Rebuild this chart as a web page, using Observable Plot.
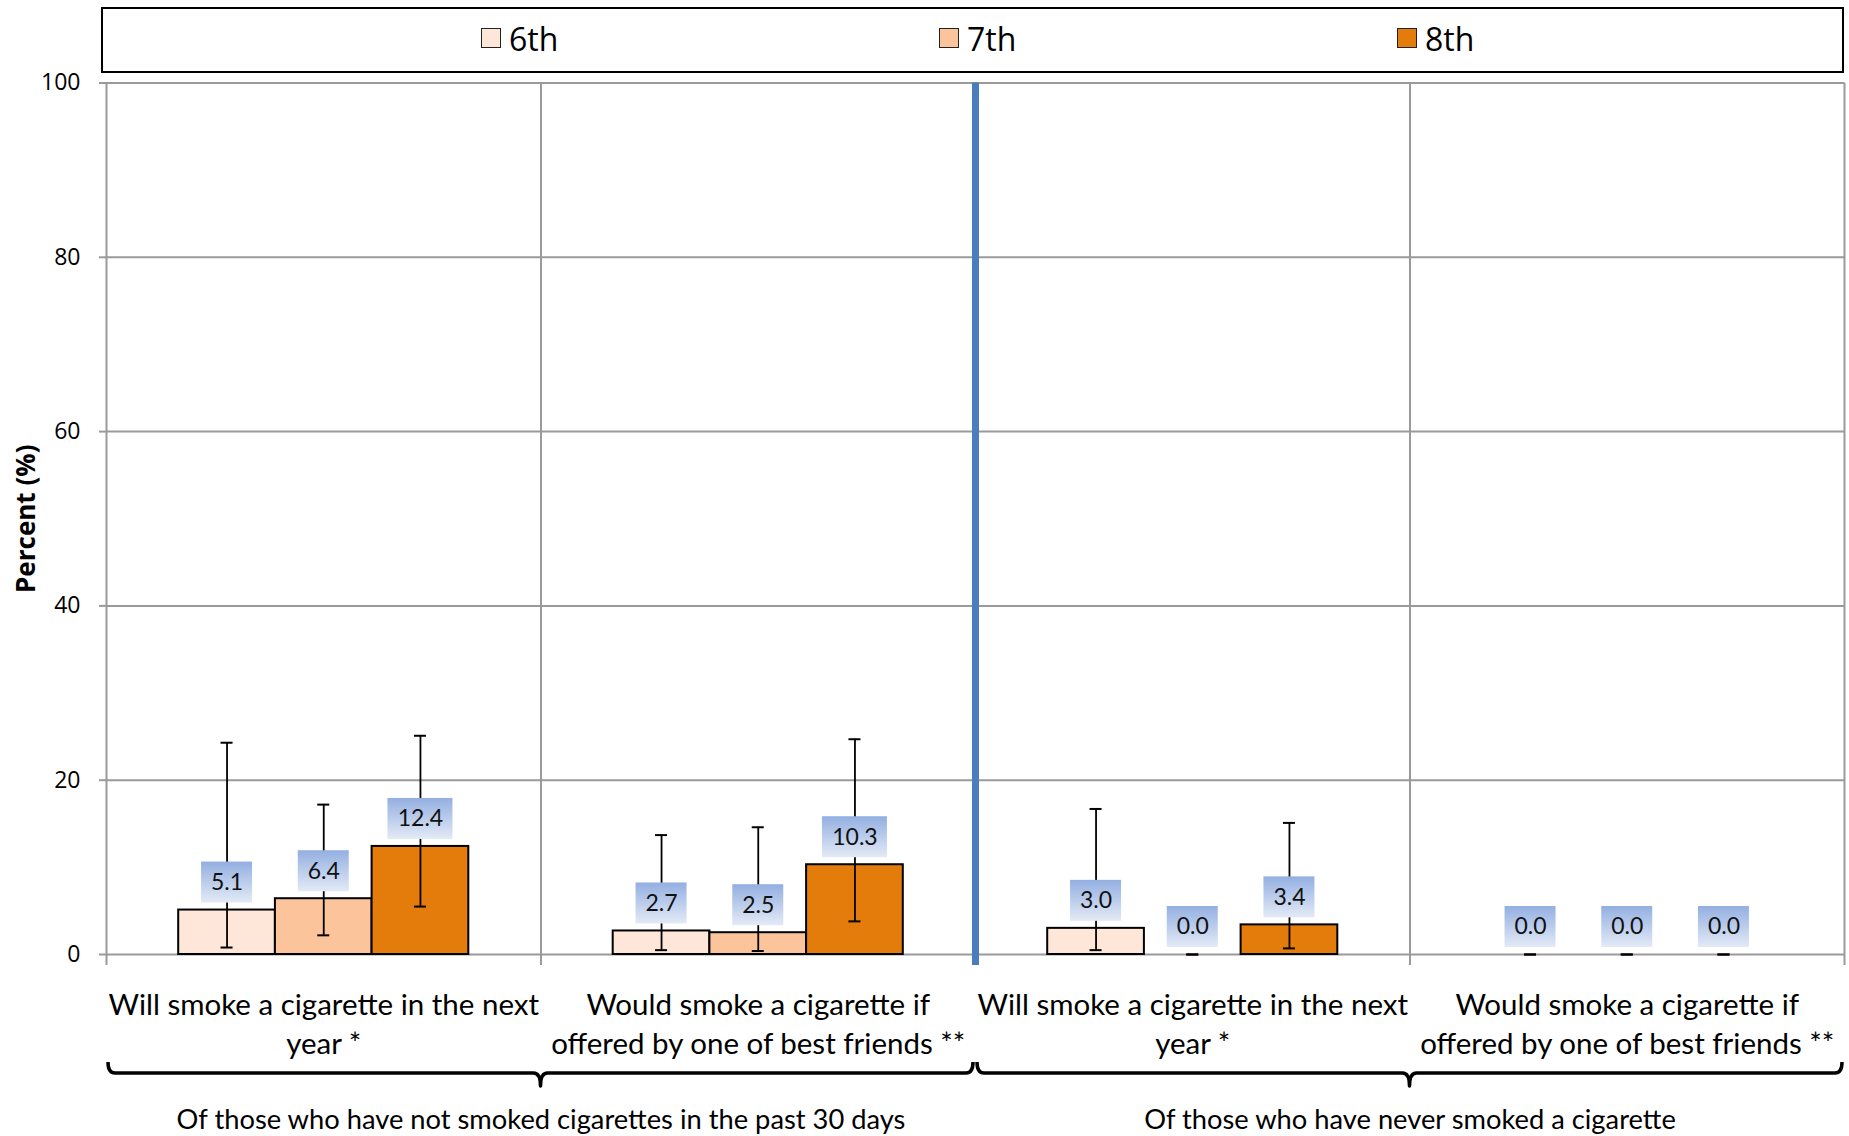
<!DOCTYPE html>
<html>
<head>
<meta charset="utf-8">
<script src="https://cdn.jsdelivr.net/npm/d3@7"></script>
<script src="https://cdn.jsdelivr.net/npm/@observablehq/plot@0.6"></script>
<style>
  html, body { margin: 0; padding: 0; background: #fff; overflow: hidden; }
  #legendWrap { position: relative; width: 1849px; height: 60px; }
  #legendBox { position: absolute; left: 101px; top: 7px; width: 1743px; height: 66px; border: 2px solid #000; box-sizing: border-box; }
  .item { position: absolute; top: -2px; height: 62px; display: flex; align-items: center; font-family: "Open Sans", sans-serif; font-size: 32px; color: #000; }
  .sw { width: 18px; height: 18px; border: 1.6px solid #222; margin-right: 8px; }
  #chart svg { display: block; }
</style>
</head>
<body>
<div id="legendWrap"><div id="legendBox"></div></div>
<div id="chart"></div>
<script>
// ---------- data ----------
const categoryLabels = [
  "Will smoke a cigarette in the next\nyear *",
  "Would smoke a cigarette if\noffered by one of best friends **",
  "Will smoke a cigarette in the next\nyear *",
  "Would smoke a cigarette if\noffered by one of best friends **"
];
const categoryGroup = [0, 0, 1, 1];
const groupLabels = [
  "Of those who have not smoked cigarettes in the past 30 days",
  "Of those who have never smoked a cigarette"
];
const grades = ["6th", "7th", "8th"];
const gradeColors = ["#FEE6D8", "#FCC49A", "#E37C0A"];

const values6th = [5.1, 2.7, 3.0, 0.0];
const values7th = [6.4, 2.5, 0.0, 0.0];
const values8th = [12.4, 10.3, 3.4, 0.0];

const lower6th = [0.8, 0.5, 0.5, 0.0];
const upper6th = [24.3, 13.7, 16.7, 0.0];
const lower7th = [2.2, 0.4, 0.0, 0.0];
const upper7th = [17.2, 14.6, 0.0, 0.0];
const lower8th = [5.5, 3.8, 0.7, 0.0];
const upper8th = [25.1, 24.7, 15.1, 0.0];

const yTicks = [0, 20, 40, 60, 80, 100];
const yLabel = "Percent (%)";

// ---------- layout / style ----------
const W = 1849, H = 1076, mL = 106, mR = 5, mT = 22.5, mB = 182;
const n = categoryLabels.length;
const catPx = (W - mL - mR) / n;
const barFrac = 96.7 / catPx;
const gridColor = "#9a9a9a";
const sepColor = "#4A7EBB";
const labelFont = "Lato, 'Open Sans', sans-serif";

const values = [values6th, values7th, values8th];
const lowers = [lower6th, lower7th, lower8th];
const uppers = [upper6th, upper7th, upper8th];
const fmt = d3.format(".1f");

const rows = [];
categoryLabels.forEach((c, i) => {
  grades.forEach((g, j) => {
    rows.push({
      cat: i, grade: g,
      cx: i + 0.5 + (j - (grades.length - 1) / 2) * barFrac,
      v: values[j][i], lo: lowers[j][i], hi: uppers[j][i],
      text: fmt(values[j][i])
    });
  });
});
const caps = rows.flatMap(d => [{cx: d.cx, y: d.lo}, {cx: d.cx, y: d.hi}]);

// separators between groups / category boundaries
const boundaries = d3.range(0, n + 1);
const sepIndex = boundaries.filter(b => b > 0 && b < n && categoryGroup[b] !== categoryGroup[b - 1]);
const grayBounds = boundaries.filter(b => !sepIndex.includes(b));

// group spans
const groupSpans = groupLabels.map((label, g) => {
  const idx = categoryGroup.map((cg, i) => cg === g ? i : -1).filter(i => i >= 0);
  return {label, start: d3.min(idx), end: d3.max(idx) + 1, center: (d3.min(idx) + d3.max(idx) + 1) / 2, g};
});

// label boxes grouped by text length
const byLen = d3.groups(rows, d => d.text.length);
const boxMarks = byLen.map(([len, arr]) => {
  const hw = (len * 14 + 9) / 2;
  return Plot.rect(arr, {
    x1: "cx", x2: "cx", y1: "v", y2: "v",
    insetLeft: -hw, insetRight: -hw, insetTop: -48, insetBottom: 7,
    fill: "url(#lblGrad)"
  });
});

// braces under each group
function braces(index, scales, values, dimensions) {
  const g = d3.create("svg:g");
  const yb = dimensions.height - dimensions.marginBottom + 119;
  const h = 11, t = 13, r = 7;
  groupSpans.forEach(s => {
    const x0 = scales.x(s.start) + 2, x1 = scales.x(s.end) - 2, xc = scales.x(s.center);
    const p = `M${x0},${yb - h} Q${x0},${yb} ${x0 + r},${yb} L${xc - r},${yb} Q${xc},${yb} ${xc},${yb + t} Q${xc},${yb} ${xc + r},${yb} L${x1 - r},${yb} Q${x1},${yb} ${x1},${yb - h}`;
    g.append("path").attr("d", p).attr("fill", "none").attr("stroke", "#000").attr("stroke-width", 3.5).attr("stroke-linejoin", "round");
  });
  return g.node();
}

const chart = Plot.plot({
  width: W, height: H,
  marginLeft: mL, marginRight: mR, marginTop: mT, marginBottom: mB,
  x: {domain: [0, n], axis: null},
  y: {domain: [0, 100]},
  color: {domain: grades, range: gradeColors},
  marks: [
    Plot.ruleY(yTicks, {stroke: gridColor, strokeWidth: 2}),
    Plot.ruleX(grayBounds, {y1: 100, y2: 0, insetBottom: -11, stroke: gridColor, strokeWidth: 2}),
    Plot.ruleX(sepIndex, {y1: 100, y2: 0, insetBottom: -11, stroke: sepColor, strokeWidth: 7}),
    Plot.axisY(yTicks, {tickSize: 7, tickPadding: 19, stroke: gridColor, strokeWidth: 2, fill: "#000", fontSize: 23, fontFamily: "'Open Sans', sans-serif", label: null}),
    Plot.rect(rows.filter(d => d.v > 0), {
      x1: d => d.cx - barFrac / 2, x2: d => d.cx + barFrac / 2,
      y1: 0, y2: "v", fill: "grade", stroke: "#000", strokeWidth: 2
    }),
    Plot.ruleX(rows, {x: "cx", y1: "lo", y2: "hi", stroke: "#000", strokeWidth: 1.8}),
    Plot.ruleY(caps, {x1: "cx", x2: "cx", y: "y", insetLeft: -6, insetRight: -6, stroke: "#000", strokeWidth: 2}),
    ...boxMarks,
    Plot.text(rows, {x: "cx", y: "v", text: "text", dy: -27.5, fontSize: 23, fontFamily: labelFont, fill: "#111"}),
    Plot.text(categoryLabels, {x: (d, i) => i + 0.5, text: d => d, frameAnchor: "bottom", lineAnchor: "top", dy: 33, lineHeight: 1.32, fontSize: 29.5, fontFamily: labelFont, fill: "#000"}),
    braces,
    Plot.text(groupSpans, {x: "center", text: "label", frameAnchor: "bottom", lineAnchor: "top", dy: 155, fontSize: 27.3, fontFamily: labelFont, fill: "#000"}),
    Plot.text([yLabel], {frameAnchor: "left", textAnchor: "middle", rotate: -90, dx: -80, fontSize: 26, fontWeight: "bold", fontFamily: "'Open Sans', sans-serif", fill: "#000"})
  ]
});

// gradient for label boxes
const defs = d3.select(chart).insert("defs", ":first-child");
const grad = defs.append("linearGradient").attr("id", "lblGrad").attr("x1", 0).attr("y1", 0).attr("x2", 0).attr("y2", 1);
grad.append("stop").attr("offset", "0%").attr("stop-color", "#93AFE1");
grad.append("stop").attr("offset", "100%").attr("stop-color", "#E3EAF6");

document.getElementById("chart").appendChild(chart);

// legend
const legendBox = document.getElementById("legendBox");
grades.forEach((g, i) => {
  const item = document.createElement("div");
  item.className = "item";
  item.style.left = (378 + i * 458) + "px";
  const sw = document.createElement("div");
  sw.className = "sw";
  sw.style.background = gradeColors[i];
  const tx = document.createElement("span");
  tx.textContent = g;
  item.appendChild(sw);
  item.appendChild(tx);
  legendBox.appendChild(item);
});
</script>
</body>
</html>
